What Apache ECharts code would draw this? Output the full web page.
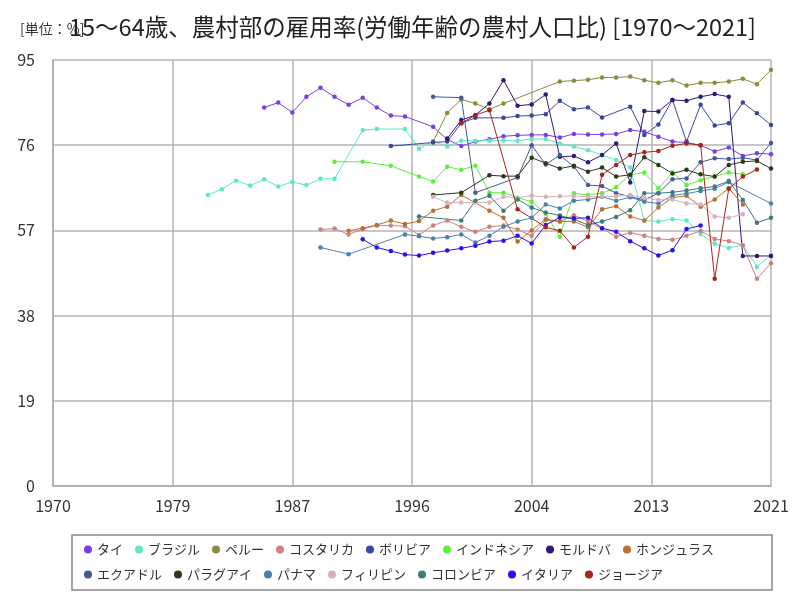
<!DOCTYPE html>
<html><head><meta charset="utf-8">
<script src="https://cdn.jsdelivr.net/npm/echarts@6/dist/echarts.min.js"></script>
<style>html,body{margin:0;padding:0;background:#fff}#c{width:800px;height:600px}</style>
</head><body><div id="c"></div>
<script>
const xTickYears = [1970, 1979, 1987, 1996, 2004, 2013, 2021];
const yTicks = [0, 19, 38, 57, 76, 95];
const seriesNames = ['タイ','ブラジル','ペルー','コスタリカ','ボリビア','インドネシア','モルドバ','ホンジュラス','エクアドル','パラグアイ','パナマ','フィリピン','コロンビア','イタリア','ジョージア'];

const thaiYears = [1985,1986,1987,1988,1989,1990,1991,1992,1993,1994,1995,1997,1998,1999,2000,2001,2002,2003,2004,2005,2006,2007,2008,2009,2010,2011,2012,2013,2014,2015,2016,2017,2018,2019,2020,2021];
const thaiVals = [84.4,85.5,83.3,86.8,88.8,86.8,85.0,86.6,84.4,82.6,82.4,80.1,77.3,75.8,76.8,77.3,78.0,78.2,78.3,78.3,77.7,78.5,78.4,78.4,78.5,79.4,79.0,77.9,76.8,76.6,76.0,74.6,75.5,73.6,74.2,74.0];

const brazilYears = [1981,1982,1983,1984,1985,1986,1987,1988,1989,1990,1992,1993,1995,1996,1997,1998,1999,2000,2001,2002,2003,2004,2005,2006,2007,2008,2009,2010,2011,2012,2013,2014,2015,2016,2017,2018,2019,2020,2021];
const brazilVals = [64.9,66.2,68.1,67.0,68.4,66.8,67.8,67.1,68.5,68.5,79.4,79.6,79.6,75.2,76.9,75.7,77.0,77.0,77.0,77.0,77.0,77.4,77.4,76.4,75.7,74.9,73.8,72.7,71.0,59.2,59.0,59.5,59.2,56.2,54.0,53.1,53.7,48.9,51.5];

const peruYears = [1997,1998,1999,2000,2001,2002,2006,2007,2008,2009,2010,2011,2012,2013,2014,2015,2016,2017,2018,2019,2020,2021];
const peruVals = [76.8,83.2,86.2,85.3,84.0,85.3,90.2,90.4,90.6,91.1,91.1,91.3,90.5,89.9,90.5,89.3,89.9,89.9,90.2,90.8,89.6,92.8];

const costaYears = [1989,1990,1991,1992,1993,1994,1995,1996,1997,1998,1999,2000,2001,2002,2003,2004,2005,2006,2007,2008,2009,2010,2011,2012,2013,2014,2015,2016,2017,2018,2019,2020,2021];
const costaVals = [57.2,57.4,56.1,57.3,58.1,58.1,57.9,56.0,58.1,59.2,57.8,56.7,57.8,58.1,57.2,55.8,59.3,59.0,60.4,59.0,57.4,55.6,56.5,55.8,55.1,54.9,55.8,56.9,55.1,54.6,53.7,46.2,49.7];

const boliviaYears = [1994,1997,1998,1999,2000,2002,2003,2004,2005,2006,2007,2008,2009,2011,2012,2013,2014,2015,2016,2017,2018,2019,2020,2021];
const boliviaVals = [75.8,76.6,76.8,80.9,82.1,82.1,82.5,82.6,82.9,85.9,84.0,84.4,82.2,84.6,78.3,80.6,86.1,76.8,85.0,80.4,80.9,85.5,83.1,80.5];

const indonesiaYears = [1990,1992,1994,1996,1997,1998,1999,2000,2001,2002,2003,2004,2005,2006,2007,2008,2009,2010,2011,2012,2013,2014,2015,2016,2017,2018,2019];
const indonesiaVals = [72.3,72.3,71.4,69.0,67.9,71.2,70.5,71.4,65.4,65.4,64.3,63.4,60.7,55.6,65.3,64.9,65.3,66.6,69.4,69.9,66.4,69.9,67.1,68.2,69.0,69.9,69.5];

const moldovaYears = [1998,1999,2000,2001,2002,2003,2004,2005,2006,2007,2008,2009,2010,2011,2012,2013,2014,2015,2016,2017,2018,2019,2020,2021];
const moldovaVals = [77.5,81.6,82.7,85.3,90.5,84.8,85.1,87.3,73.4,73.6,72.2,73.8,76.4,67.7,83.6,83.5,86.1,85.9,86.8,87.4,86.8,51.3,51.3,51.3];

const hondurasYears = [1991,1992,1993,1994,1995,1996,1997,1998,1999,2001,2002,2003,2004,2005,2006,2007,2008,2009,2010,2011,2012,2013,2014,2015,2016,2017,2018,2019];
const hondurasVals = [56.9,57.5,58.2,59.2,58.4,59.1,61.4,62.3,64.9,61.4,59.8,54.5,57.0,59.5,59.0,59.0,57.7,61.7,62.4,60.1,59.2,62.1,64.3,64.7,62.3,63.9,66.4,62.8];

const ecuadorYears = [1997,1999,2000,2003,2004,2005,2006,2007,2008,2009,2010,2011,2012,2013,2014,2015,2016,2017,2018,2019,2020,2021];
const ecuadorVals = [86.8,86.6,65.4,68.8,76.0,71.7,73.8,71.2,67.1,66.9,65.3,64.5,63.8,65.3,68.4,68.6,72.2,73.1,72.9,73.2,72.7,76.5];

const paraguayYears = [1997,1999,2001,2002,2003,2004,2005,2006,2007,2008,2009,2010,2011,2012,2013,2014,2015,2016,2017,2018,2019,2020,2021];
const paraguayVals = [64.9,65.4,69.3,69.1,69.1,73.2,72.0,70.8,71.4,70.1,71.0,69.0,69.4,73.3,71.6,69.7,70.5,69.5,69.0,71.6,72.3,72.5,70.8];

const panamaYears = [1989,1991,1995,1996,1997,1998,1999,2000,2001,2002,2003,2004,2005,2006,2007,2008,2009,2010,2011,2012,2013,2014,2015,2016,2017,2018,2021];
const panamaVals = [53.2,51.7,56.1,55.7,55.2,55.5,56.1,54.3,55.8,57.8,59.0,59.8,62.8,61.9,63.6,63.9,64.5,63.6,64.4,63.4,63.0,64.8,65.2,65.8,66.3,67.8,63.0];

const philippinesYears = [1997,1998,1999,2000,2001,2002,2003,2004,2005,2006,2007,2008,2009,2010,2011,2012,2013,2014,2015,2016,2017,2018,2019];
const philippinesVals = [64.5,63.2,63.2,63.2,63.2,64.5,64.3,64.7,64.5,64.6,64.7,64.5,64.6,64.6,64.9,64.2,63.8,63.9,63.0,62.8,60.1,59.8,60.6];

const colombiaYears = [1996,1999,2000,2001,2002,2003,2004,2005,2006,2007,2008,2009,2010,2011,2012,2013,2014,2015,2016,2017,2018,2019,2020,2021];
const colombiaVals = [60.1,59.2,63.6,64.7,61.4,63.9,62.1,61.0,60.3,59.5,58.2,59.0,60.0,61.5,65.3,65.3,65.5,65.9,66.4,66.8,68.0,63.8,58.7,59.8];

const italyYears = [1992,1993,1994,1995,1996,1997,1998,1999,2000,2001,2002,2003,2004,2005,2006,2007,2008,2009,2010,2011,2012,2013,2014,2015,2016];
const italyVals = [55.0,53.2,52.4,51.6,51.4,52.0,52.5,53.0,53.6,54.5,54.7,55.8,54.1,58.2,59.9,59.7,59.8,57.5,56.7,54.6,53.0,51.4,52.6,57.3,58.1];

const georgiaYears = [1999,2000,2001,2003,2005,2006,2007,2008,2009,2010,2011,2012,2013,2014,2015,2016,2017,2018,2019,2020];
const georgiaVals = [80.9,82.7,83.8,61.7,57.7,56.9,53.2,55.6,69.4,71.6,73.8,74.4,74.7,75.9,76.4,76.0,46.2,66.3,69.0,70.6];

const allYears = [thaiYears,brazilYears,peruYears,costaYears,boliviaYears,indonesiaYears,moldovaYears,hondurasYears,ecuadorYears,paraguayYears,panamaYears,philippinesYears,colombiaYears,italyYears,georgiaYears];
const allVals = [thaiVals,brazilVals,peruVals,costaVals,boliviaVals,indonesiaVals,moldovaVals,hondurasVals,ecuadorVals,paraguayVals,panamaVals,philippinesVals,colombiaVals,italyVals,georgiaVals];
const colors = ['#7b3fe4','#5ee8c4','#8a8a40','#cc8080','#3848a0','#5af03c','#2e1a78','#b87030','#46589a','#2c3a1a','#4a80b0','#d8b0bc','#3c7c76','#2a10ee','#a82418'];

const BASE = xTickYears[0];
const FONT = '"Noto Sans CJK JP", "Noto Sans", sans-serif';

const series = seriesNames.map((n, i) => ({
  name: n, type: 'line',
  data: allYears[i].map((y, k) => [y - BASE, allVals[i][k]]),
  symbol: 'circle', symbolSize: 4.5, showSymbol: true,
  lineStyle: { width: 1, color: colors[i] },
  itemStyle: { color: colors[i] },
  emphasis: { disabled: true }
}));

const chart = echarts.init(document.getElementById('c'));
chart.setOption({
  animation: false,
  textStyle: { fontFamily: FONT },
  title: [
    { text: '[単位：%]', left: 15, top: 17, textStyle: { fontSize: 14, fontWeight: 'normal', color: '#333', fontFamily: FONT } },
    { text: '15～64歳、農村部の雇用率(労働年齢の農村人口比) [1970～2021]', left: 64, top: 10, textStyle: { fontSize: 23.5, fontWeight: 'normal', color: '#222', fontFamily: FONT } }
  ],
  grid: { left: 53, right: 29, top: 60, bottom: 114, containLabel: false },
  xAxis: {
    type: 'value', min: 0, max: xTickYears[xTickYears.length - 1] - BASE, interval: 8.5,
    axisLine: { show: true, lineStyle: { color: '#aaa', width: 1.5 } },
    axisTick: { show: false },
    splitLine: { show: true, lineStyle: { color: '#b4b4b4', width: 1.5 } },
    axisLabel: { fontSize: 16, color: '#333', margin: 12, fontFamily: FONT, formatter: v => String(Math.round(v + BASE)) }
  },
  yAxis: {
    type: 'value', min: yTicks[0], max: yTicks[yTicks.length - 1], interval: 19,
    axisLine: { show: true, lineStyle: { color: '#aaa', width: 1.5 } },
    axisTick: { show: false },
    splitLine: { show: true, lineStyle: { color: '#b4b4b4', width: 1.5 } },
    axisLabel: { fontSize: 16, color: '#333', margin: 18, fontFamily: FONT }
  },
  legend: {
    data: seriesNames, left: 79, top: 538, width: 690,
    icon: 'circle', itemWidth: 8, itemHeight: 8, itemGap: 12,
    textStyle: { fontSize: 13, color: '#333', fontFamily: FONT }
  },
  graphic: [{ type: 'rect', shape: { x: 72, y: 535, width: 700, height: 55 }, style: { fill: 'none', stroke: '#888', lineWidth: 1.5 }, silent: true }],
  series: series
});
</script></body></html>
